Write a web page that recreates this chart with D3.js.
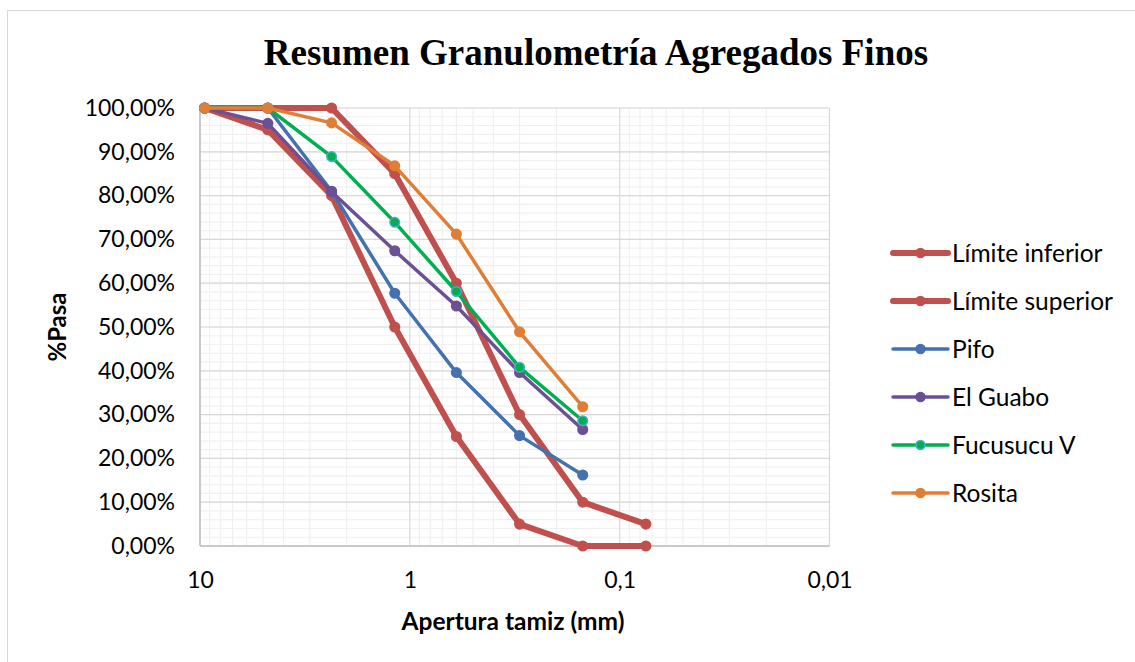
<!DOCTYPE html>
<html>
<head>
<meta charset="utf-8">
<script src="https://cdn.jsdelivr.net/npm/d3@7"></script>
<style>
  body { margin: 0; background: #fff; }
  text { font-family: Lato, "Liberation Sans", sans-serif; fill: #000; }
</style>
</head>
<body>
<div class="canvas"></div>
<script>
// data: sieve openings (mm) and % passing per series
const sieves = [9.5, 4.75, 2.36, 1.18, 0.6, 0.3, 0.15, 0.075];
const limiteInferior = [100, 95, 80, 50, 25, 5, 0, 0];
const limiteSuperior = [100, 100, 100, 85, 60, 30, 10, 5];
const pifo = [100, 100, 81, 57.7, 39.6, 25.2, 16.2];
const elGuabo = [100, 96.5, 80.9, 67.4, 54.8, 39.6, 26.6];
const fucusucu = [100, 100, 88.9, 73.9, 58.1, 40.8, 28.6];
const rosita = [100, 100, 96.6, 86.8, 71.2, 48.9, 31.8];

const seriesNames = ['Límite inferior', 'Límite superior', 'Pifo', 'El Guabo', 'Fucusucu V', 'Rosita'];
const seriesValues = [limiteInferior, limiteSuperior, pifo, elGuabo, fucusucu, rosita];
const seriesColors = ['#C0504D', '#C0504D', '#4472AE', '#6C4F94', '#00B050', '#E07E35'];
const markerStroke = ['#C0504D', '#C0504D', '#4472AE', '#6C4F94', '#4BACC6', '#E07E35'];
const lineWidths = [6, 6, 3.5, 3.5, 3.5, 3.5];

const xTicks = [10, 1, 0.1, 0.01];
const yTicks = d3.range(0, 1.0001, 0.1);

const width = 1135, height = 662;
const svg = d3.select('.canvas')
    .append('svg')
    .attr('width', width)
    .attr('height', height);

// outer chart frame
svg.append('rect')
    .attr('x', 7.5).attr('y', 10.5)
    .attr('width', width).attr('height', height)
    .attr('fill', 'none')
    .attr('stroke', '#d9d9d9');

// plot area
const plot = {left: 200, right: 829.5, top: 108, bottom: 546};

const x = d3.scaleLog()
    .domain([10, 0.01])
    .range([plot.left, plot.right]);

const y = d3.scaleLinear()
    .domain([0, 1])
    .range([plot.bottom, plot.top]);

const es = d3.formatLocale({decimal: ',', thousands: '.', grouping: [3], currency: ['', '€'], percent: '%'});
const pctFmt = es.format('.2%');

const grid = svg.append('g');

// minor grid
const minorX = [];
[0.01, 0.1, 1].forEach(d => { for (let k = 2; k <= 9; k++) minorX.push(d * k); });
grid.selectAll('.mx').data(minorX).enter().append('line')
    .attr('x1', d => x(d)).attr('x2', d => x(d))
    .attr('y1', plot.top).attr('y2', plot.bottom)
    .attr('stroke', '#f0f0f0').attr('stroke-width', 1.2);

const minorY = d3.range(0, 1.0001, 0.02);
grid.selectAll('.my').data(minorY).enter().append('line')
    .attr('x1', plot.left).attr('x2', plot.right)
    .attr('y1', d => y(d)).attr('y2', d => y(d))
    .attr('stroke', '#f0f0f0').attr('stroke-width', 1.2);

// major grid
grid.selectAll('.gx').data(xTicks).enter().append('line')
    .attr('x1', d => x(d)).attr('x2', d => x(d))
    .attr('y1', plot.top).attr('y2', plot.bottom)
    .attr('stroke', '#d9d9d9').attr('stroke-width', 1.2);

grid.selectAll('.gy').data(yTicks).enter().append('line')
    .attr('x1', plot.left).attr('x2', plot.right)
    .attr('y1', d => y(d)).attr('y2', d => y(d))
    .attr('stroke', '#d9d9d9').attr('stroke-width', 1.2);

// axis lines
svg.append('line')
    .attr('x1', plot.left).attr('x2', plot.left)
    .attr('y1', plot.top).attr('y2', plot.bottom)
    .attr('stroke', '#bfbfbf').attr('stroke-width', 1.5);
svg.append('line')
    .attr('x1', plot.left).attr('x2', plot.right)
    .attr('y1', plot.bottom).attr('y2', plot.bottom)
    .attr('stroke', '#bfbfbf').attr('stroke-width', 1.5);

// axes (labels only)
const xAxis = d3.axisBottom(x)
    .tickValues(xTicks)
    .tickSize(0)
    .tickFormat(d => es.format(',')(d));
const yAxis = d3.axisLeft(y)
    .tickValues(yTicks)
    .tickSize(0)
    .tickPadding(25)
    .tickFormat(pctFmt);

const xAxisGroup = svg.append('g')
    .attr('transform', `translate(0, ${plot.bottom})`)
    .call(xAxis);
const yAxisGroup = svg.append('g')
    .attr('transform', `translate(${plot.left}, 0)`)
    .call(yAxis);

[xAxisGroup, yAxisGroup].forEach(g => {
    g.select('.domain').remove();
    g.selectAll('text')
        .attr('font-family', 'Lato, sans-serif')
        .attr('font-size', 23)
        .attr('fill', '#000');
});
xAxisGroup.selectAll('text').attr('dy', '0.35em').attr('y', 34);

// lines and markers
const line = d3.line()
    .x(d => x(d[0]))
    .y(d => y(d[1] / 100));

seriesValues.forEach((vals, i) => {
    const pts = vals.map((v, j) => [sieves[j], v]);
    const g = svg.append('g');
    g.append('path')
        .datum(pts)
        .attr('d', line)
        .attr('fill', 'none')
        .attr('stroke', seriesColors[i])
        .attr('stroke-width', lineWidths[i])
        .attr('stroke-linejoin', 'round');
    g.selectAll('circle').data(pts).enter().append('circle')
        .attr('cx', d => x(d[0]))
        .attr('cy', d => y(d[1] / 100))
        .attr('r', 4.8)
        .attr('fill', seriesColors[i])
        .attr('stroke', markerStroke[i])
        .attr('stroke-width', 1.5);
});

// title
svg.append('text')
    .attr('x', 596).attr('y', 65)
    .attr('text-anchor', 'middle')
    .style('font-family', '"Liberation Serif", "Times New Roman", serif')
    .attr('font-weight', 'bold')
    .attr('font-size', 37)
    .text('Resumen Granulometría Agregados Finos');

// axis titles
svg.append('text')
    .attr('x', 513).attr('y', 630)
    .attr('text-anchor', 'middle')
    .attr('font-weight', 'bold')
    .attr('font-size', 24.5)
    .text('Apertura tamiz (mm)');

svg.append('text')
    .attr('transform', `translate(66, 327) rotate(-90)`)
    .attr('text-anchor', 'middle')
    .attr('font-weight', 'bold')
    .attr('font-size', 24)
    .text('%Pasa');

// legend
const legend = svg.append('g').attr('transform', 'translate(893, 253)');
seriesNames.forEach((name, i) => {
    const item = legend.append('g').attr('transform', `translate(0, ${i * 48})`);
    item.append('line')
        .attr('x1', 0).attr('x2', 55)
        .attr('stroke', seriesColors[i])
        .attr('stroke-width', lineWidths[i])
        .attr('stroke-linecap', 'round');
    item.append('circle')
        .attr('cx', 27.5).attr('r', 4.5)
        .attr('fill', seriesColors[i])
        .attr('stroke', markerStroke[i])
        .attr('stroke-width', 1.5);
    item.append('text')
        .attr('x', 59).attr('dy', '0.35em')
        .attr('font-size', 24.5)
        .text(name);
});
</script>
</body>
</html>
